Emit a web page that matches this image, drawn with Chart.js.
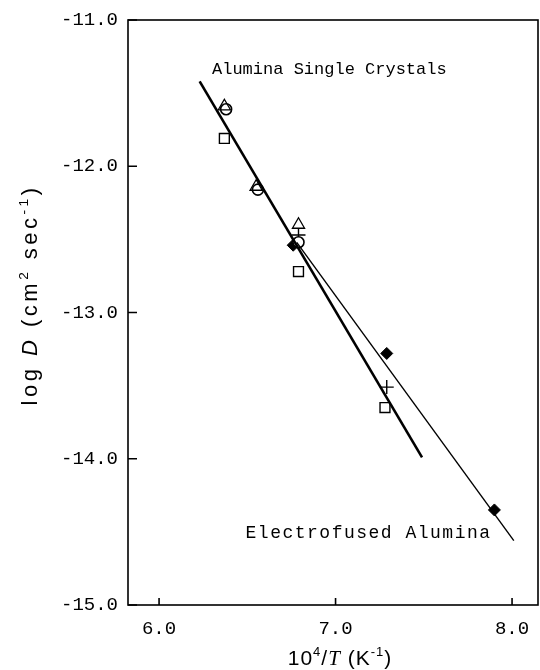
<!DOCTYPE html>
<html>
<head>
<meta charset="utf-8">
<script src="https://cdn.jsdelivr.net/npm/chart.js@4"></script>
<style>
  html, body { margin: 0; padding: 0; background: #fff; }
  #wrap { width: 540px; height: 670px; }
</style>
</head>
<body>
<div id="wrap"><canvas id="chart" width="540" height="670"></canvas></div>
<script>
// values: x = 10^4/T (K^-1), y = log D
const triangles = [[6.37, -11.59], [6.55, -12.14], [6.79, -12.40]];
const circles = [[6.38, -11.61], [6.56, -12.16], [6.79, -12.52]];
const squares = [[6.37, -11.81], [6.79, -12.72], [7.28, -13.65]];
const diamonds = [[6.76, -12.54], [7.29, -13.28], [7.90, -14.35]];
const pluses = [[6.79, -12.47], [7.29, -13.51]];

// fitted lines (end points)
const singleCrystalLine = [[6.23, -11.42], [7.49, -13.99]];
const electrofusedLine = [[6.78, -12.52], [8.01, -14.56]];

const xTicks = [6, 7, 8];
const yTicks = [-11, -12, -13, -14, -15];
const xRange = [5.824, 8.147];
const yRange = [-15, -11];

const labels = [
    { text: 'Alumina Single Crystals', x: 6.30, y: -11.34, size: 17, spacing: 0 },
    { text: 'Electrofused Alumina', x: 6.49, y: -14.51, size: 18, spacing: 1.5 }
];

const pts = arr => arr.map(([x, y]) => ({ x, y }));
const monoFont = '"Liberation Mono", "DejaVu Sans Mono", monospace';
const sansFont = '"Liberation Sans", Arial, sans-serif';

function drawRich(ctx, parts, size, spacing) {
    // measure, then draw centred on the origin
    ctx.letterSpacing = spacing + 'px';
    let total = 0;
    parts.forEach(p => {
        const s = p.sup ? size * 0.62 : size;
        ctx.font = (p.italic ? 'italic ' : '') + s + 'px ' + (p.font || sansFont);
        p.w = ctx.measureText(p.t).width;
        total += p.w;
    });
    let x = -total / 2;
    ctx.textBaseline = 'alphabetic';
    ctx.textAlign = 'left';
    parts.forEach(p => {
        const s = p.sup ? size * 0.62 : size;
        ctx.font = (p.italic ? 'italic ' : '') + s + 'px ' + (p.font || sansFont);
        ctx.fillText(p.t, x, p.sup ? -size * 0.42 : 0);
        x += p.w;
    });
    ctx.letterSpacing = '0px';
}

const decor = {
    id: 'decor',
    afterDraw(chart) {
        const { ctx, chartArea: a, scales } = chart;
        const xs = scales.x, ys = scales.y;
        ctx.save();
        ctx.strokeStyle = '#000';
        ctx.fillStyle = '#000';
        ctx.lineWidth = 1.6;
        ctx.strokeRect(a.left, a.top, a.right - a.left, a.bottom - a.top);

        // inward tick marks
        ctx.beginPath();
        xTicks.forEach(v => {
            const px = xs.getPixelForValue(v);
            ctx.moveTo(px, a.bottom);
            ctx.lineTo(px, a.bottom - 7);
        });
        yTicks.forEach(v => {
            const py = ys.getPixelForValue(v);
            ctx.moveTo(a.left, py);
            ctx.lineTo(a.left + 9, py);
        });
        ctx.stroke();

        // curve labels
        ctx.textBaseline = 'middle';
        ctx.textAlign = 'left';
        labels.forEach(l => {
            ctx.font = l.size + 'px ' + monoFont;
            ctx.letterSpacing = l.spacing + 'px';
            ctx.fillText(l.text, xs.getPixelForValue(l.x), ys.getPixelForValue(l.y));
        });
        ctx.letterSpacing = '0px';

        // axis titles
        ctx.save();
        ctx.translate(340, 665);
        drawRich(ctx, [
            { t: '10' }, { t: '4', sup: true }, { t: '/' },
            { t: 'T', italic: true, font: '"Liberation Serif", serif' },
            { t: ' (K' }, { t: '-1', sup: true }, { t: ')' }
        ], 21, 1);
        ctx.restore();

        ctx.save();
        ctx.translate(37, 295);
        ctx.rotate(-Math.PI / 2);
        drawRich(ctx, [
            { t: 'log ' }, { t: 'D', italic: true }, { t: ' (cm' },
            { t: '2', sup: true }, { t: ' sec' }, { t: '-1', sup: true }, { t: ')' }
        ], 22, 3.5);
        ctx.restore();
        ctx.restore();
    }
};

const ctx = document.getElementById('chart').getContext('2d');
new Chart(ctx, {
    type: 'scatter',
    data: {
        datasets: [
            { data: pts(singleCrystalLine), showLine: true, borderColor: '#000', borderWidth: 2.6, pointRadius: 0 },
            { data: pts(electrofusedLine), showLine: true, borderColor: '#000', borderWidth: 1.4, pointRadius: 0 },
            { data: pts(triangles), pointStyle: 'triangle', pointRadius: 7, borderColor: '#000', borderWidth: 1.3, backgroundColor: 'rgba(0,0,0,0)' },
            { data: pts(circles), pointStyle: 'circle', pointRadius: 5.5, borderColor: '#000', borderWidth: 1.6, backgroundColor: '#fff' },
            { data: pts(squares), pointStyle: 'rect', pointRadius: 7, borderColor: '#000', borderWidth: 1.4, backgroundColor: 'rgba(0,0,0,0)' },
            { data: pts(diamonds), pointStyle: 'rectRot', pointRadius: 6, borderColor: '#000', borderWidth: 1, backgroundColor: '#000' },
            { data: pts(pluses), pointStyle: 'cross', pointRadius: 7, borderColor: '#000', borderWidth: 1.4 }
        ]
    },
    options: {
        responsive: false,
        animation: false,
        events: [],
        layout: { autoPadding: false, padding: { top: 20, right: 2, left: 0, bottom: 0 } },
        plugins: { legend: { display: false }, tooltip: { enabled: false } },
        scales: {
            x: {
                type: 'linear',
                min: xRange[0],
                max: xRange[1],
                grid: { display: false },
                border: { display: false },
                afterFit: s => { s.height = 65; s.paddingLeft = 0; s.paddingRight = 0; },
                afterBuildTicks: s => { s.ticks = xTicks.map(v => ({ value: v })); },
                ticks: {
                    color: '#000',
                    padding: 5,
                    font: { family: monoFont, size: 19 },
                    callback: v => v.toFixed(1)
                }
            },
            y: {
                type: 'linear',
                min: yRange[0],
                max: yRange[1],
                grid: { display: false },
                border: { display: false },
                afterFit: s => { s.width = 128; },
                afterBuildTicks: s => { s.ticks = yTicks.map(v => ({ value: v })); },
                ticks: {
                    color: '#000',
                    padding: 2,
                    font: { family: monoFont, size: 19 },
                    callback: v => v.toFixed(1)
                }
            }
        }
    },
    plugins: [decor]
});
</script>
</body>
</html>
